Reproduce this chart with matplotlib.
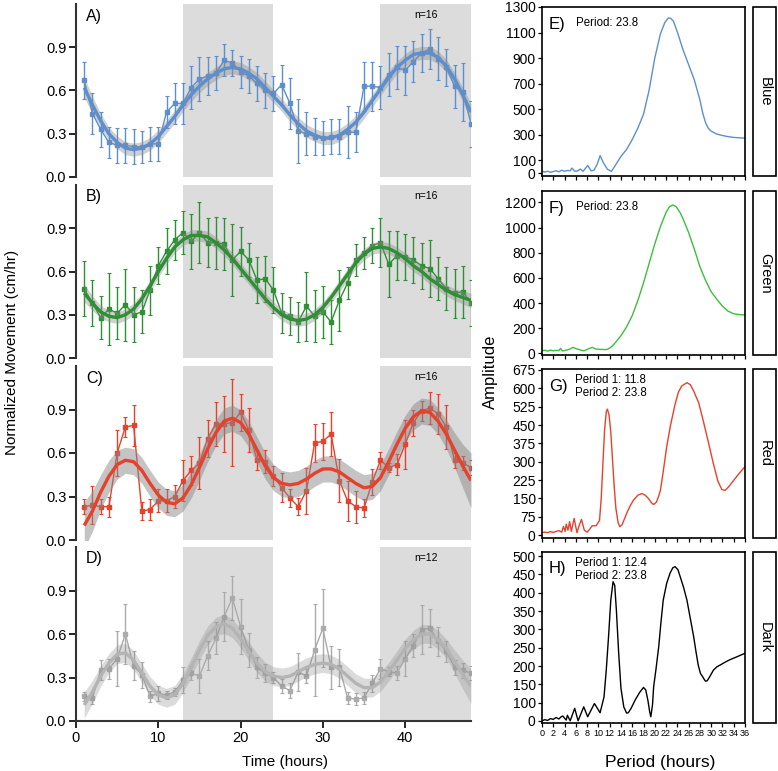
import matplotlib
matplotlib.use("Agg")
import matplotlib.pyplot as plt
from matplotlib.patches import Rectangle

plt.rcParams['font.family'] = ['Liberation Sans', 'DejaVu Sans']
NARROW = ['Liberation Sans Narrow', 'Liberation Sans', 'DejaVu Sans']

W, H = 778, 771

hours = list(range(1, 49))

# ---- left panels: hourly means, error bars, fitted curve, ribbon half-width ----
blue_mean = [0.67, 0.44, 0.33, 0.24, 0.22, 0.22, 0.21, 0.21, 0.23, 0.23, 0.45, 0.51,
             0.51, 0.62, 0.68, 0.70, 0.72, 0.81, 0.79, 0.73, 0.70, 0.65, 0.60, 0.58,
             0.64, 0.51, 0.32, 0.30, 0.28, 0.27, 0.28, 0.28, 0.31, 0.31, 0.63, 0.63,
             0.62, 0.71, 0.76, 0.74, 0.80, 0.86, 0.89, 0.82, 0.76, 0.63, 0.59, 0.37]
blue_err = [0.13, 0.14, 0.12, 0.11, 0.12, 0.12, 0.12, 0.11, 0.12, 0.12, 0.11, 0.14,
            0.14, 0.15, 0.15, 0.13, 0.12, 0.11, 0.09, 0.11, 0.12, 0.12, 0.12, 0.12,
            0.14, 0.18, 0.22, 0.15, 0.13, 0.12, 0.12, 0.12, 0.18, 0.14, 0.17, 0.17,
            0.15, 0.15, 0.15, 0.17, 0.14, 0.13, 0.14, 0.15, 0.13, 0.15, 0.20, 0.16]
blue_fit = [0.62, 0.50, 0.39, 0.30, 0.24, 0.20, 0.19, 0.20, 0.23, 0.28, 0.35, 0.42,
            0.50, 0.57, 0.63, 0.68, 0.72, 0.75, 0.76, 0.75, 0.72, 0.68, 0.62, 0.56,
            0.50, 0.43, 0.37, 0.32, 0.29, 0.27, 0.27, 0.29, 0.33, 0.38, 0.45, 0.53,
            0.61, 0.69, 0.76, 0.81, 0.85, 0.86, 0.86, 0.83, 0.77, 0.68, 0.57, 0.45]
blue_band = [0.07, 0.06, 0.05] + [0.045] * 43 + [0.05, 0.06]

green_mean = [0.48, 0.38, 0.28, 0.34, 0.31, 0.37, 0.30, 0.32, 0.47, 0.64, 0.74, 0.82,
              0.87, 0.81, 0.87, 0.80, 0.80, 0.79, 0.68, 0.74, 0.68, 0.54, 0.55, 0.47,
              0.31, 0.29, 0.25, 0.36, 0.29, 0.32, 0.25, 0.40, 0.52, 0.68, 0.73, 0.78,
              0.80, 0.65, 0.71, 0.70, 0.68, 0.64, 0.62, 0.55, 0.48, 0.45, 0.46, 0.38]
green_err = [0.19, 0.16, 0.15, 0.25, 0.18, 0.25, 0.19, 0.15, 0.17, 0.13, 0.16, 0.14,
             0.15, 0.19, 0.21, 0.17, 0.18, 0.18, 0.25, 0.17, 0.12, 0.16, 0.16, 0.16,
             0.14, 0.13, 0.14, 0.24, 0.18, 0.18, 0.15, 0.21, 0.11, 0.11, 0.11, 0.12,
             0.17, 0.23, 0.17, 0.16, 0.16, 0.16, 0.20, 0.15, 0.15, 0.17, 0.18, 0.16]
green_fit = [0.45, 0.38, 0.32, 0.29, 0.28, 0.30, 0.34, 0.41, 0.50, 0.60, 0.69, 0.77,
             0.82, 0.85, 0.85, 0.84, 0.80, 0.75, 0.69, 0.62, 0.55, 0.48, 0.41, 0.35,
             0.30, 0.27, 0.26, 0.27, 0.30, 0.35, 0.42, 0.50, 0.58, 0.66, 0.72, 0.76,
             0.77, 0.76, 0.73, 0.69, 0.64, 0.60, 0.55, 0.51, 0.47, 0.44, 0.42, 0.40]
green_band = [0.06, 0.05, 0.045] + [0.04] * 43 + [0.045, 0.05]

red_mean = [0.23, 0.24, 0.23, 0.23, 0.60, 0.78, 0.79, 0.20, 0.21, 0.27, 0.27, 0.30,
            0.41, 0.48, 0.53, 0.70, 0.80, 0.80, 0.81, 0.88, 0.76, 0.55, 0.54, 0.44,
            0.36, 0.29, 0.23, 0.34, 0.67, 0.68, 0.73, 0.41, 0.27, 0.23, 0.22, 0.40,
            0.55, 0.50, 0.52, 0.66, 0.81, 0.89, 0.91, 0.87, 0.78, 0.55, 0.53, 0.50]
red_err = [0.05, 0.13, 0.05, 0.07, 0.16, 0.07, 0.14, 0.06, 0.07, 0.08, 0.08, 0.08,
           0.14, 0.10, 0.18, 0.13, 0.15, 0.19, 0.30, 0.13, 0.15, 0.07, 0.08, 0.07,
           0.10, 0.06, 0.06, 0.16, 0.13, 0.13, 0.15, 0.15, 0.14, 0.11, 0.06, 0.09,
           0.06, 0.03, 0.07, 0.17, 0.09, 0.07, 0.11, 0.14, 0.15, 0.05, 0.05, 0.05]
red_fit = [0.10, 0.20, 0.33, 0.44, 0.52, 0.55, 0.54, 0.48, 0.39, 0.31, 0.26, 0.25,
           0.29, 0.38, 0.50, 0.63, 0.74, 0.82, 0.84, 0.81, 0.73, 0.62, 0.51, 0.43,
           0.39, 0.38, 0.39, 0.42, 0.46, 0.49, 0.49, 0.47, 0.43, 0.39, 0.36, 0.37,
           0.43, 0.54, 0.66, 0.77, 0.85, 0.89, 0.88, 0.82, 0.73, 0.62, 0.51, 0.41]
red_band = [0.16, 0.14, 0.12, 0.11, 0.10] + [0.09] * 39 + [0.10, 0.12, 0.15, 0.19]

dark_mean = [0.17, 0.16, 0.35, 0.36, 0.43, 0.60, 0.38, 0.32, 0.17, 0.19, 0.18, 0.20,
             0.28, 0.33, 0.31, 0.45, 0.57, 0.72, 0.85, 0.65, 0.49, 0.37, 0.33, 0.30,
             0.24, 0.21, 0.34, 0.31, 0.49, 0.64, 0.37, 0.37, 0.16, 0.15, 0.16, 0.26,
             0.36, 0.34, 0.33, 0.43, 0.52, 0.63, 0.64, 0.55, 0.48, 0.37, 0.35, 0.33]
dark_err = [0.03, 0.04, 0.07, 0.07, 0.19, 0.21, 0.10, 0.09, 0.04, 0.05, 0.03, 0.03,
            0.09, 0.05, 0.12, 0.10, 0.11, 0.17, 0.15, 0.19, 0.12, 0.07, 0.06, 0.04,
            0.05, 0.05, 0.13, 0.05, 0.32, 0.27, 0.15, 0.13, 0.04, 0.04, 0.04, 0.06,
            0.07, 0.03, 0.05, 0.12, 0.08, 0.17, 0.13, 0.10, 0.07, 0.05, 0.05, 0.05]
dark_fit = [0.11, 0.20, 0.31, 0.40, 0.46, 0.47, 0.42, 0.33, 0.24, 0.18, 0.16, 0.18,
            0.26, 0.37, 0.49, 0.59, 0.65, 0.67, 0.64, 0.57, 0.48, 0.40, 0.34, 0.31,
            0.30, 0.31, 0.34, 0.37, 0.39, 0.40, 0.39, 0.36, 0.31, 0.26, 0.23, 0.23,
            0.27, 0.34, 0.42, 0.50, 0.56, 0.60, 0.60, 0.56, 0.50, 0.41, 0.32, 0.24]
dark_band = [0.09, 0.08, 0.07] + [0.065] * 42 + [0.08, 0.10, 0.12]

left_labels = ["A)", "B)", "C)", "D)"]
left_n = ["n=16", "n=16", "n=16", "n=12"]
left_colors = ["#5b8fd0", "#2f8f35", "#e6412b", "#ababab"]
fit_colors = ["#5b8fd0", "#2f8f35", "#e6412b", "#b4b4b4"]
ribbon_alpha = [0.4, 0.4, 0.5, 0.3]

# ---- right panels: periodogram (period in hours, amplitude) ----
e_period = [0, 0.5, 1, 1.5, 2, 2.5, 3, 3.5, 4, 4.5, 5, 5.3, 5.8, 6.3, 6.8, 7.3, 8.1,
            8.7, 9.2, 9.8, 10.3, 10.9, 11.6, 12.3, 13, 14, 15, 16, 17, 18, 19, 20,
            21, 21.8, 22.4, 22.8, 23.3, 24, 25, 26, 27, 28, 28.5, 29, 29.5, 30, 31,
            32, 33, 34, 35, 36]
e_amp = [15, 8, 14, 6, 12, 18, 10, 22, 15, 20, 18, 39, 15, 16, 31, 14, 60,
         18, 21, 70, 136, 80, 30, 13, 60, 130, 185, 262, 352, 460, 650, 900,
         1090, 1180, 1214, 1212, 1190, 1105, 966, 849, 731, 574, 470, 395, 350, 328, 305,
         294, 285, 279, 276, 274]

f_period = [0, 0.5, 1, 1.5, 2, 2.5, 3, 3.3, 3.6, 4, 4.5, 5, 5.5, 6, 6.6, 7.4, 8.2,
            8.9, 9.5, 10.2, 11.2, 11.6, 12, 12.5, 13, 14, 15, 16, 17, 18, 19, 20,
            21, 22, 22.6, 23.2, 23.8, 24.5, 25, 26, 27, 28, 29, 30, 31, 32, 33,
            34, 35, 36]
f_amp = [20, 25, 18, 26, 20, 24, 22, 40, 20, 22, 28, 35, 48, 38, 30, 20, 35,
         48, 35, 32, 30, 32, 42, 60, 85, 140, 210, 300, 420, 560, 715, 870,
         1007, 1120, 1165, 1179, 1165, 1118, 1070, 960, 830, 689, 580, 490, 430, 375, 335,
         315, 308, 305]

g_period = [0, 0.5, 1, 1.5, 2, 2.5, 3, 3.5, 3.8, 4.1, 4.3, 4.6, 4.9, 5.2, 5.7, 6.2,
            6.6, 7, 7.5, 8, 8.5, 8.9, 9.6, 10.2, 10.5, 10.8, 11.1, 11.4, 11.6,
            11.9, 12.2, 12.5, 12.8, 13.1, 13.5, 13.8, 14.2, 14.6, 15, 15.6, 16.2,
            17, 17.7, 18.3, 18.9, 19.4, 19.8, 20.3, 20.7, 21, 21.5, 22.1, 22.8,
            23.6, 24.2, 24.8, 25.7, 26.3, 26.9, 27.8, 28.6, 29.5, 30.4, 31.2, 31.9,
            32.5, 33.2, 34, 35, 36]
g_amp = [10, 12, 10, 14, 11, 15, 18, 12, 35, 15, 45, 20, 55, 15, 68, 10,
         40, 64, 20, 12, 25, 38, 38, 60, 150, 291, 430, 505, 515,
         490, 420, 310, 200, 110, 50, 34, 42, 65, 88, 118, 142,
         163, 170, 163, 149, 132, 125, 135, 160, 183, 260, 359, 450,
         535, 585, 610, 623, 615, 589, 540, 467, 380, 291, 220, 186,
         183, 200, 224, 253, 280]

h_period = [0, 0.5, 1, 1.5, 2, 2.5, 3, 3.4, 3.7, 4, 4.3, 4.5, 5, 5.8, 6.4, 7.4, 8.1,
            9.3, 10.3, 11, 11.4, 11.8, 12.2, 12.6, 12.9, 13.2, 13.6, 14, 14.5, 15,
            15.3, 15.8, 16.5, 17.3, 18, 18.4, 18.8, 19.1, 19.3, 19.6, 19.8, 20.2,
            20.7, 21.1, 21.5, 22.1, 22.7, 23.2, 23.6, 24.1, 24.5, 25.1, 25.7, 26.3,
            26.9, 27.3, 27.7, 28.1, 28.5, 28.8, 29, 29.3, 29.7, 30.4, 31, 31.6,
            32.5, 33.4, 34.5, 36]
h_amp = [51, 54, 52, 57, 55, 60, 56, 62, 64, 58, 53, 66, 51, 85, 51, 89, 62,
         98, 73, 116, 190, 280, 380, 430, 420, 350, 235, 140, 89, 72,
         73, 85, 107, 128, 142, 135, 105, 75, 62, 95, 144, 190,
         253, 320, 380, 425, 453, 468, 471, 463, 444, 415, 380, 330,
         280, 240, 203, 180, 171, 163, 159, 160, 170, 189, 198, 203,
         211, 218, 225, 235]

right_labels = ["E)", "F)", "G)", "H)"]
right_notes = [["Period: 23.8"], ["Period: 23.8"],
               ["Period 1: 11.8", "Period 2: 23.8"],
               ["Period 1: 12.4", "Period 2: 23.8"]]
strip_names = ["Blue", "Green", "Red", "Dark"]
right_colors = ["#5b8fd0", "#3cbf3c", "#e6412b", "#000000"]
e_ticks = [0, 100, 300, 500, 700, 900, 1100, 1300]
f_ticks = [0, 200, 400, 600, 800, 1000, 1200]
g_ticks = [0, 75, 150, 225, 300, 375, 450, 525, 600, 675]
h_ticks = [51, 100, 150, 200, 250, 300, 350, 400, 450, 500]
h_ticklabels = ["0", "100", "150", "200", "250", "300", "350", "400", "450", "500"]


def px_axes(fig, left, top, right, bottom):
    return fig.add_axes([left / W, 1 - bottom / H, (right - left) / W, (bottom - top) / H])


def fig_text(fig, x, y, s, **kw):
    fig.text(x / W, 1 - y / H, s, **kw)


fig = plt.figure(figsize=(W / 100, H / 100), dpi=100)

left_rows = [(4, 177), (185, 358), (366, 540), (547, 721)]
left_data = [(blue_mean, blue_err, blue_fit, blue_band),
             (green_mean, green_err, green_fit, green_band),
             (red_mean, red_err, red_fit, red_band),
             (dark_mean, dark_err, dark_fit, dark_band)]

for i, ((top, bottom), (mean, err, fit, band)) in enumerate(zip(left_rows, left_data)):
    ax = px_axes(fig, 76, top, 471, bottom)
    ax.axvspan(13, 24, color="#dcdcdc", lw=0, zorder=0)
    ax.axvspan(37, 48, color="#dcdcdc", lw=0, zorder=0)
    ax.errorbar(hours, mean, yerr=err, fmt="-s", color=left_colors[i], ms=3.4,
                lw=1.0, elinewidth=1.0, capsize=1.5, capthick=0.8, zorder=2)
    lo = [f - b for f, b in zip(fit, band)]
    hi = [f + b for f, b in zip(fit, band)]
    ax.fill_between(hours, lo, hi, color="#8a8a8a", alpha=ribbon_alpha[i], lw=0, zorder=3)
    ax.plot(hours, fit, color=fit_colors[i], lw=2.4, zorder=4, solid_capstyle="butt")
    ax.set_xlim(0, 48)
    ax.set_ylim(0, 1.2)
    ax.set_yticks([0.0, 0.3, 0.6, 0.9])
    ax.set_yticklabels(["0.0", "0.3", "0.6", "0.9"], fontsize=10.5)
    for s in ["top", "right"]:
        ax.spines[s].set_visible(False)
    ax.spines["left"].set_linewidth(1.5)
    ax.spines["left"].set_color("#333333")
    ax.tick_params(axis="y", direction="out", length=5, width=1.2, pad=2)
    if i < 3:
        ax.spines["bottom"].set_visible(False)
        ax.set_xticks([])
    else:
        ax.spines["bottom"].set_linewidth(1.5)
        ax.spines["bottom"].set_color("#333333")
        ax.set_xticks([0, 10, 20, 30, 40])
        ax.set_xticklabels(["0", "10", "20", "30", "40"], fontsize=10.5)
        ax.tick_params(axis="x", direction="out", length=5, width=1.2, pad=2)
    fig_text(fig, 86, top + 12, left_labels[i], fontsize=11.5, va="center", ha="left")
    fig_text(fig, 426, top + 11, left_n[i], fontsize=7.5, va="center", ha="center")

right_rows = [(7, 176), (191, 355), (369, 538), (552, 723)]
right_data = [(e_period, e_amp, (-23, 1300), e_ticks, None),
              (f_period, f_amp, (-13, 1290), f_ticks, None),
              (g_period, g_amp, (-12, 679), g_ticks, None),
              (h_period, h_amp, (45, 511), h_ticks, h_ticklabels)]

for i, ((top, bottom), (per, amp, ylim, ticks, tlabels)) in enumerate(zip(right_rows, right_data)):
    ax = px_axes(fig, 542, top, 745, bottom)
    ax.plot(per, amp, color=right_colors[i], lw=1.0)
    ax.set_xlim(0, 36)
    ax.set_ylim(*ylim)
    ax.set_yticks(ticks)
    ax.set_yticklabels(tlabels if tlabels else [str(t) for t in ticks],
                       fontsize=10, family=NARROW)
    ax.set_xticks(list(range(0, 37, 2)))
    if i == 3:
        ax.set_xticklabels([str(t) for t in range(0, 37, 2)], fontsize=6.5, family=NARROW)
    else:
        ax.set_xticklabels([])
    for s in ax.spines.values():
        s.set_linewidth(1.2)
    ax.tick_params(direction="out", length=3, width=0.9, pad=1.5)
    fig_text(fig, 549, top + 17, right_labels[i], fontsize=12, va="center", ha="left")
    notes = right_notes[i]
    if len(notes) == 1:
        fig_text(fig, 576, top + 16, notes[0], fontsize=8.3, va="center", ha="left")
    else:
        fig_text(fig, 575, top + 11, notes[0], fontsize=8.3, va="center", ha="left")
        fig_text(fig, 575, top + 24, notes[1], fontsize=8.3, va="center", ha="left")
    fig.patches.append(Rectangle((753 / W, 1 - bottom / H), 23 / W, (bottom - top) / H,
                                 transform=fig.transFigure, fill=False, lw=1.2,
                                 edgecolor="black"))
    fig_text(fig, 765, (top + bottom) / 2, strip_names[i], fontsize=10.5, rotation=270,
             va="center", ha="center")

fig_text(fig, 12, 352, "Normalized Movement (cm/hr)", fontsize=11, rotation=90,
         va="center", ha="center")
fig_text(fig, 285, 762, "Time (hours)", fontsize=11, va="center", ha="center")
fig_text(fig, 490, 372, "Amplitude", fontsize=12, rotation=90, va="center", ha="center")
fig_text(fig, 660, 762, "Period (hours)", fontsize=12.5, va="center", ha="center")

fig.savefig("out.png", dpi=100)
